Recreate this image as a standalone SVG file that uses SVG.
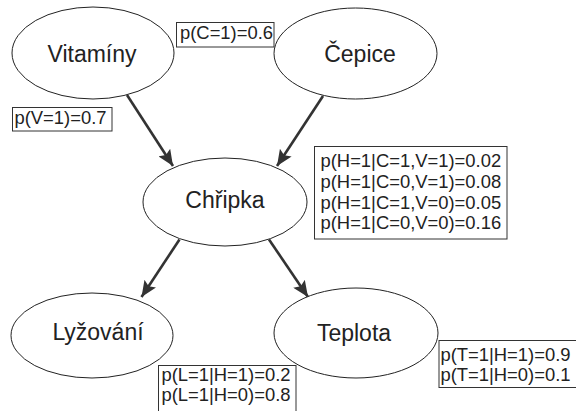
<svg xmlns="http://www.w3.org/2000/svg" width="576" height="411" viewBox="0 0 576 411">
<style>
.node ellipse{fill:#fff;stroke:#222;stroke-width:1}
.node text{font-family:"Liberation Sans",Arial,sans-serif;font-size:23px;fill:#222;text-anchor:middle}
.cpt rect{fill:#fff;stroke:#333;stroke-width:1}
.cpt text{font-family:"Liberation Sans",Arial,sans-serif;font-size:18.4px;fill:#222}
.edge{stroke:#333;stroke-width:2.6;fill:none;marker-end:url(#ah)}
</style>
<defs>
<marker id="ah" markerUnits="userSpaceOnUse" markerWidth="18" markerHeight="14" refX="16" refY="7" orient="auto" viewBox="0 0 18 14">
<path d="M0,0 L16,7 L0,14 L3,7 Z" fill="#333"/>
</marker>
</defs>
<rect width="576" height="411" fill="#fff"/>
<g id="connectors">
<line class="edge" x1="127" y1="95" x2="173" y2="166"/>
<line class="edge" x1="323" y1="96" x2="277" y2="166"/>
<line class="edge" x1="179.5" y1="239.5" x2="141.5" y2="297"/>
<line class="edge" x1="269" y1="239.5" x2="308" y2="297"/>
</g>
<g id="node-vitaminy" class="node">
<ellipse cx="93" cy="53" rx="81" ry="46"/>
<text x="92" y="62">Vitamíny</text>
</g>
<g id="node-cepice" class="node">
<ellipse cx="355.5" cy="53.5" rx="81.5" ry="45.5"/>
<text x="360" y="62">Čepice</text>
</g>
<g id="node-chripka" class="node">
<ellipse cx="225" cy="202" rx="82" ry="44"/>
<text x="225" y="208">Chřipka</text>
</g>
<g id="node-lyzovani" class="node">
<ellipse cx="92" cy="335.5" rx="81" ry="42.5"/>
<text x="98" y="339.5">Lyžování</text>
</g>
<g id="node-teplota" class="node">
<ellipse cx="356" cy="333" rx="82" ry="45"/>
<text x="354" y="341">Teplota</text>
</g>
<g id="cpt-c" class="cpt">
<rect x="176.5" y="22.5" width="97.5" height="24.5"/>
<text x="180" y="39">p(C=1)=0.6</text>
</g>
<g id="cpt-v" class="cpt">
<rect x="12.5" y="107.5" width="99.5" height="23.5"/>
<text x="14.5" y="124">p(V=1)=0.7</text>
</g>
<g id="cpt-h" class="cpt">
<rect x="314.5" y="146.5" width="192.5" height="92.5"/>
<text x="320.5" y="166.7">p(H=1|C=1,V=1)=0.02</text>
<text x="320.5" y="187.6">p(H=1|C=0,V=1)=0.08</text>
<text x="320.5" y="208.5">p(H=1|C=1,V=0)=0.05</text>
<text x="320.5" y="229.4">p(H=1|C=0,V=0)=0.16</text>
</g>
<g id="cpt-l" class="cpt">
<rect x="158.5" y="365.5" width="137.5" height="50"/>
<text x="161.5" y="381">p(L=1|H=1)=0.2</text>
<text x="161.5" y="400.5">p(L=1|H=0)=0.8</text>
</g>
<g id="cpt-t" class="cpt">
<rect x="439" y="340.5" width="140" height="47"/>
<text x="440.5" y="361">p(T=1|H=1)=0.9</text>
<text x="440.5" y="380.5">p(T=1|H=0)=0.1</text>
</g>
</svg>
